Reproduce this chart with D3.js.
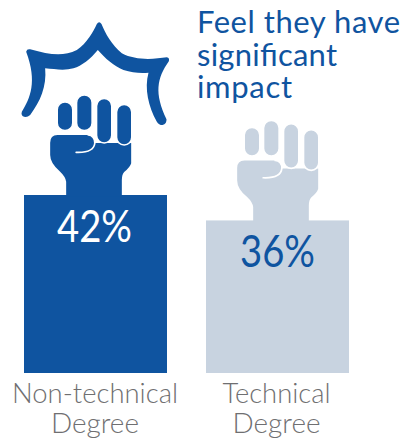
<!DOCTYPE html>
<html>
<head>
<meta charset="utf-8">
<script src="https://cdn.jsdelivr.net/npm/d3@7/dist/d3.min.js"></script>
<style>
html,body{margin:0;padding:0;background:#fff;}
svg{display:block;}
text{font-family:Lato,"Open Sans",sans-serif;}
</style>
</head>
<body>
<svg id="chart" width="401" height="439"></svg>
<script>
// Share of respondents who feel they have significant impact, by degree type
const categories = ["Non-technical Degree", "Technical Degree"];
const labelLines = [["Non-technical", "Degree"], ["Technical", "Degree"]];
const values = [42, 36];
const titleLines = ["Feel they have", "significant", "impact"];

const DARK = "#0f54a0", LIGHT = "#c8d3e0", GREY = "#6f6f71";
const svg = d3.select("#chart");

const x = d3.scaleBand().domain(categories).range([24, 349]).paddingInner(0.2143).paddingOuter(0);
const y = d3.scaleLinear().domain([0, 42]).range([373, 195]);

// Raised-fist glyph, drawn in its own coordinates (3 units per pixel)
const palm = "M150,428 Q150,405 172,405 L264,405 C276,405 285,416 284,429 L393,429 L393,490 " +
  "Q390,502 372,516 Q365,524 365,540 L365,590 L198,590 L198,545 Q196,530 180,515 Q150,490 150,465 Z";
const fingers = [
  [171, 306, 47, 86], [229, 285, 47, 107], [289, 295, 46, 134], [349, 313, 46, 122]
];
const crease = "M228,457 C255,458 282,452 284,429 C285,416 276,405 264,405";
const burst = "M65,335 C90,295 112,245 78,155 Q80,146 90,148 C150,165 190,170 230,150 " +
  "C260,130 280,95 290,72 Q297,62 304,72 C315,100 335,135 365,160 C405,182 460,178 500,172 " +
  "Q509,174 506,184 C470,235 462,280 499,358 Q500,372 487,375 Q476,375 470,365 " +
  "C445,320 432,265 445,218 C420,220 395,218 370,210 C340,198 315,175 293,150 " +
  "C270,178 245,197 220,205 C195,212 165,208 135,205 C140,260 120,305 90,345 Q78,356 67,348 Q62,342 65,335 Z";

function drawFist(g, colour) {
  g.append("path").attr("d", palm).attr("fill", colour);
  g.selectAll("rect").data(fingers).join("rect")
    .attr("x", d => d[0]).attr("y", d => d[1])
    .attr("width", d => d[2]).attr("height", d => d[3])
    .attr("rx", 23)
    .attr("fill", colour)
    .attr("stroke", "#fff").attr("stroke-width", 5);
  g.append("path").attr("d", crease).attr("fill", "none")
    .attr("stroke", "#fff").attr("stroke-width", 5).attr("stroke-linecap", "round");
}

// Bars
svg.selectAll("rect.bar").data(categories).join("rect")
  .attr("class", "bar")
  .attr("x", d => x(d)).attr("width", x.bandwidth())
  .attr("y", (d, i) => y(values[i]))
  .attr("height", (d, i) => y(0) - y(values[i]))
  .attr("fill", (d, i) => i === 0 ? DARK : LIGHT);

// Fists stand on the bar tops; the second sits slightly right of centre
categories.forEach((c, i) => {
  const cx = x(c) + x.bandwidth() / 2 + (i === 0 ? -1.5 : 3.5);
  const g = svg.append("g")
    .attr("transform", `translate(${cx},${y(values[i])}) scale(${1 / 3}) translate(-281.5,-585)`);
  drawFist(g, i === 0 ? DARK : LIGHT);
  if (i === 0) g.append("path").attr("d", burst).attr("fill", DARK);
});

// Value labels, condensed to the narrow figures of the set
svg.selectAll("text.value").data(categories).join("text")
  .attr("class", "value")
  .attr("x", (d, i) => x(d) + x.bandwidth() / 2 - (i === 0 ? 1 : 0))
  .attr("y", (d, i) => y(values[i]) + 47)
  .attr("text-anchor", "middle")
  .attr("font-size", 45)
  .attr("textLength", 75)
  .attr("lengthAdjust", "spacingAndGlyphs")
  .attr("fill", (d, i) => i === 0 ? "#fff" : DARK)
  .text((d, i) => values[i] + "%");

// Category labels, two lines each
const labelWidth = { "Non-technical": 166, "Technical": 108, "Degree": 88 };
categories.forEach((c, i) => {
  labelLines[i].forEach((line, j) => {
    svg.append("text")
      .attr("x", x(c) + x.bandwidth() / 2 + (i === 0 ? -0.5 : -1))
      .attr("y", y(0) + 30 + j * 30)
      .attr("text-anchor", "middle")
      .attr("font-size", 28)
      .attr("font-weight", 300)
      .attr("textLength", labelWidth[line])
      .attr("lengthAdjust", "spacingAndGlyphs")
      .attr("fill", GREY)
      .text(line);
  });
});

// Title
const titleWidth = { "Feel they have": 203, "significant": 140, "impact": 95 };
svg.selectAll("text.title").data(titleLines).join("text")
  .attr("class", "title")
  .attr("x", 197)
  .attr("y", (d, i) => 33 + i * 32.5)
  .attr("font-size", 31)
  .attr("textLength", d => titleWidth[d])
  .attr("lengthAdjust", "spacing")
  .attr("fill", DARK)
  .text(d => d);
</script>
</body>
</html>
